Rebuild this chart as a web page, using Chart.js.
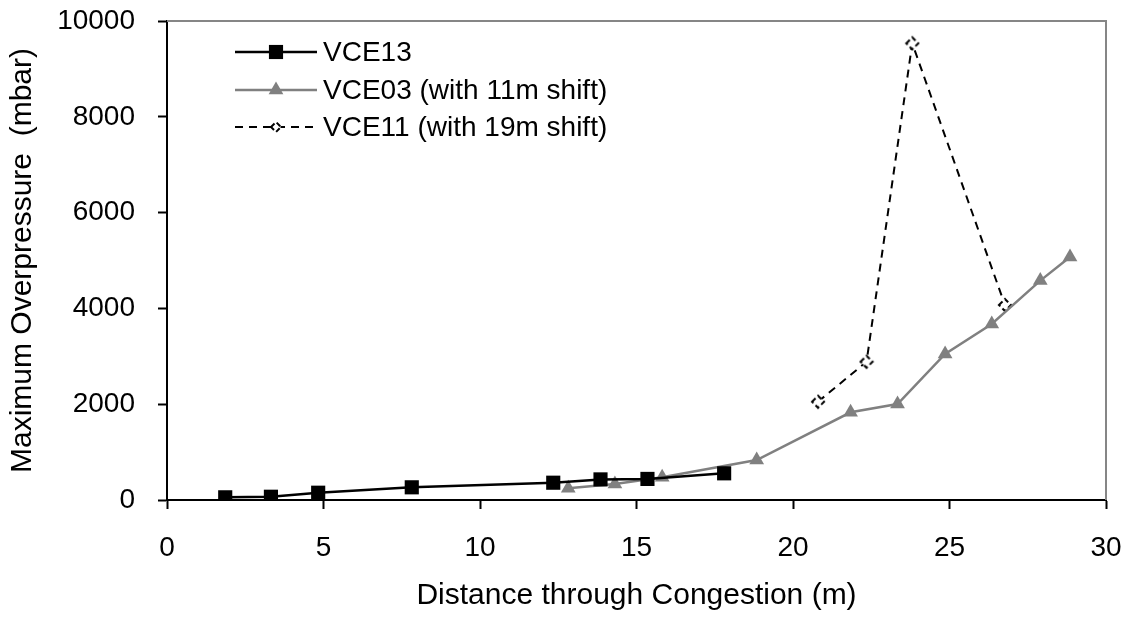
<!DOCTYPE html>
<html><head><meta charset="utf-8">
<script src="https://cdn.jsdelivr.net/npm/chart.js@4.4.0/dist/chart.umd.min.js"></script>
<style>html,body{margin:0;padding:0;background:#fff}#wrap{width:1132px;height:618px}</style>
</head><body><div id="wrap"><canvas id="c" width="1132" height="618"></canvas></div>
<script>
// ---- data ----
const vce13X = [1.86, 3.32, 4.83, 7.82, 12.34, 13.85, 15.35, 17.8];
const vce13Y = [56, 68, 152, 265, 361, 430, 440, 557];
const vce03X = [12.82, 14.31, 15.82, 18.84, 21.84, 23.34, 24.86, 26.35, 27.9, 28.85];
const vce03Y = [244, 334, 474, 835, 1831, 2004, 3048, 3674, 4580, 5073];
const vce11X = [20.8, 22.35, 23.81, 26.77];
const vce11Y = [2052, 2887, 9534, 4071];
const seriesNames = ['VCE13', 'VCE03 (with 11m shift)', 'VCE11 (with 19m shift)'];
const xTicks = [0, 5, 10, 15, 20, 25, 30];
const yTicks = [0, 2000, 4000, 6000, 8000, 10000];
const xTitle = 'Distance through Congestion (m)';
const yTitle = 'Maximum Overpressure  (mbar)';

const FONT = "'Liberation Sans', Arial, sans-serif";
const pts = (xs, ys) => xs.map((x, i) => ({x: x, y: ys[i]}));

function dashedDiamond(size) {
  const c = document.createElement('canvas');
  c.width = size; c.height = size;
  const g = c.getContext('2d');
  const m = size / 2, r = size / 2 - 2;
  g.fillStyle = '#fff';
  g.beginPath(); g.moveTo(m, m - r); g.lineTo(m + r, m); g.lineTo(m, m + r); g.lineTo(m - r, m); g.closePath(); g.fill();
  g.strokeStyle = '#000'; g.lineWidth = 2; g.setLineDash([5, 3]);
  g.beginPath(); g.moveTo(m - r, m); g.lineTo(m, m - r); g.lineTo(m + r, m); g.lineTo(m, m + r); g.closePath(); g.stroke();
  return c;
}
const diamondImg = dashedDiamond(16);
const diamondImgSmall = dashedDiamond(14);

const insideLegend = {
  id: 'insideLegend',
  afterDraw(chart) {
    const ctx = chart.ctx;
    const x0 = 235, x1 = 317, tx = 323;
    const rows = [52, 90, 127];
    chart.data.datasets.forEach((ds, i) => {
      const y = rows[i];
      ctx.save();
      ctx.strokeStyle = ds.borderColor;
      ctx.lineWidth = ds.borderWidth;
      ctx.setLineDash(ds.borderDash || []);
      ctx.beginPath(); ctx.moveTo(x0, y); ctx.lineTo(x1, y); ctx.stroke();
      ctx.setLineDash([]);
      ctx.fillStyle = ds.pointBackgroundColor;
      ctx.strokeStyle = ds.pointBorderColor;
      const ps = ds.pointStyle === diamondImg ? diamondImgSmall : ds.pointStyle;
      Chart.helpers.drawPoint(ctx, {pointStyle: ps, radius: ds.pointRadius, borderWidth: 0, rotation: 0}, (x0 + x1) / 2, y);
      ctx.fillStyle = '#000';
      ctx.font = '28px ' + FONT;
      ctx.textBaseline = 'middle';
      ctx.textAlign = 'left';
      ctx.fillText(ds.label, tx, y + 1);
      ctx.restore();
    });
  }
};

const frame = {
  id: 'frame',
  beforeDatasetsDraw(chart) {
    const {ctx, chartArea: a} = chart;
    ctx.save();
    ctx.strokeStyle = '#868686';
    ctx.lineWidth = 2;
    ctx.beginPath();
    ctx.moveTo(a.left, a.top); ctx.lineTo(a.right, a.top); ctx.lineTo(a.right, a.bottom);
    ctx.stroke();
    ctx.restore();
  }
};

new Chart(document.getElementById('c'), {
  type: 'line',
  data: {
    datasets: [
      {
        label: seriesNames[0], data: pts(vce13X, vce13Y),
        borderColor: '#000', borderWidth: 2.5, pointStyle: 'rect', pointRadius: 10,
        pointBackgroundColor: '#000', pointBorderColor: '#000', pointBorderWidth: 0, tension: 0
      },
      {
        label: seriesNames[1], data: pts(vce03X, vce03Y),
        borderColor: '#808080', borderWidth: 2.5, pointStyle: 'triangle', pointRadius: 8.5,
        pointBackgroundColor: '#808080', pointBorderColor: '#808080', pointBorderWidth: 0, tension: 0
      },
      {
        label: seriesNames[2], data: pts(vce11X, vce11Y),
        borderColor: '#000', borderWidth: 2, borderDash: [8, 6], pointStyle: diamondImg, pointRadius: 8,
        pointBackgroundColor: '#fff', pointBorderColor: '#000', tension: 0
      }
    ]
  },
  options: {
    responsive: false,
    animation: false,
    events: [],
    layout: {padding: {left: 0, top: 21, right: 26, bottom: 0}},
    plugins: {legend: {display: false}, tooltip: {enabled: false}},
    scales: {
      x: {
        type: 'linear', min: 0, max: 30,
        afterBuildTicks: s => { s.ticks = xTicks.map(v => ({value: v})); },
        afterFit: s => { s.height = 118; s.paddingLeft = 0; s.paddingRight = 0; },
        grid: {display: true, drawOnChartArea: false, drawTicks: true, tickLength: 9, tickWidth: 2, tickColor: '#000'},
        border: {display: true, color: '#000', width: 2},
        ticks: {color: '#000', font: {family: FONT, size: 28}, padding: 22, maxRotation: 0},
        title: {display: true, text: xTitle, color: '#000', font: {family: FONT, size: 30}, padding: {top: 0, bottom: 4}}
      },
      y: {
        type: 'linear', min: 0, max: 10000,
        afterBuildTicks: s => { s.ticks = yTicks.map(v => ({value: v})); },
        afterFit: s => { s.width = 167; s.paddingTop = 0; s.paddingBottom = 0; },
        grid: {display: true, drawOnChartArea: false, drawTicks: true, tickLength: 9, tickWidth: 2, tickColor: '#000'},
        border: {display: true, color: '#000', width: 2},
        ticks: {color: '#000', font: {family: FONT, size: 28}, padding: 23, callback: v => String(v)},
        title: {display: true, text: yTitle, color: '#000', font: {family: FONT, size: 30}, padding: {top: 5, bottom: 0}}
      }
    }
  },
  plugins: [frame, insideLegend]
});
</script></body></html>
